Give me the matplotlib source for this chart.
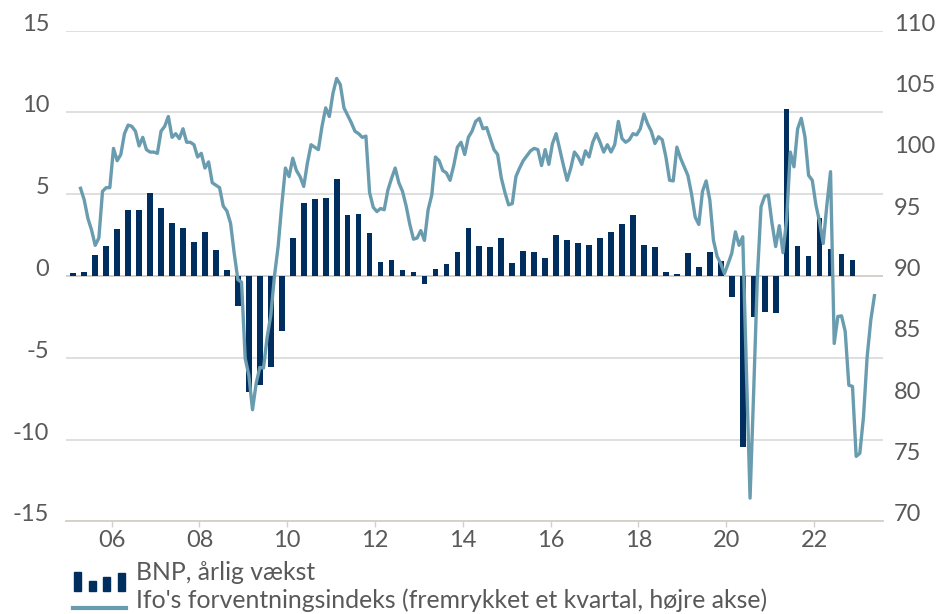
import matplotlib
matplotlib.use("Agg")
import matplotlib.pyplot as plt
from matplotlib.patches import Rectangle
from matplotlib.lines import Line2D
import numpy as np

# ---------------- data ----------------
# BNP, årlig vækst (quarterly, 2005Q1 - 2022Q4), left axis (%)
gdp_start_year = 2005
gdp_growth = [
    0.2, 0.25, 1.3, 1.85,      # 2005
    2.87, 4.03, 4.03, 5.07,    # 2006
    4.16, 3.24, 2.95, 2.08,    # 2007
    2.69, 1.59, 0.37, -1.81,   # 2008
    -7.08, -6.65, -5.54, -3.34,  # 2009
    2.32, 4.46, 4.70, 4.77,    # 2010
    5.93, 3.73, 3.79, 2.63,    # 2011
    0.86, 0.98, 0.37, 0.24,    # 2012
    -0.49, 0.43, 0.73, 1.47,   # 2013
    2.93, 1.83, 1.77, 2.32,    # 2014
    0.80, 1.53, 1.47, 1.10,    # 2015
    2.50, 2.20, 2.02, 1.90,    # 2016
    2.32, 2.69, 3.18, 3.73,    # 2017
    1.90, 1.77, 0.24, 0.12,    # 2018
    1.41, 0.55, 1.47, 0.92,    # 2019
    -1.26, -10.43, -2.49, -2.18,  # 2020
    -2.24, 10.2, 1.85, 1.24,   # 2021
    3.57, 1.65, 1.34, 0.98,    # 2022
]

# Ifo's forventningsindeks, shifted one quarter (monthly, Apr 2005 - May 2023), right axis
ifo_start = (2005, 4)
ifo_expect = [
    97.15, 96.2, 94.7, 93.75, 92.5, 93.1, 96.9, 97.2, 97.2,                      # 2005 Apr-Dec
    100.4, 99.4, 99.9, 101.6, 102.3, 102.2, 101.8, 100.6, 101.3, 100.3, 100.1, 100.1,  # 2006
    100.0, 101.8, 102.2, 103.0, 101.3, 101.6, 101.2, 102.0, 100.9, 100.9, 100.7, 99.7,  # 2007
    100.0, 98.8, 99.3, 97.6, 97.4, 97.2, 95.7, 95.3, 94.3, 91.85, 89.7, 89.5,     # 2008
    83.3, 81.9, 79.1, 81.25, 82.55, 82.5, 85.0, 86.8, 90.0, 92.4, 95.8, 98.8,     # 2009
    98.1, 99.6, 98.6, 98.1, 97.3, 99.2, 100.7, 100.5, 100.3, 102.2, 103.7, 103.0,  # 2010
    104.9, 106.1, 105.6, 103.7, 103.1, 102.5, 101.8, 101.6, 101.3, 101.4, 96.8, 95.6,  # 2011
    95.25, 95.5, 95.4, 97.0, 97.95, 98.8, 97.6, 96.9, 95.7, 94.2, 93.0, 93.1,     # 2012
    93.7, 92.9, 95.4, 96.6, 99.7, 99.4, 98.6, 98.4, 97.8, 99.0, 100.5, 100.9,     # 2013
    99.9, 101.3, 101.8, 102.6, 102.85, 102.0, 102.1, 101.2, 100.3, 99.9, 98.0, 96.8,  # 2014
    95.8, 95.9, 98.1, 98.8, 99.4, 99.8, 100.2, 100.4, 100.3, 99.0, 100.3, 99.1,   # 2015
    100.8, 101.6, 100.3, 99.0, 97.8, 98.8, 100.1, 99.7, 99.1, 100.2, 99.7, 100.9,  # 2016
    101.6, 100.9, 100.1, 100.7, 100.1, 100.7, 102.6, 101.2, 100.9, 101.1, 101.6, 101.5,  # 2017
    102.0, 103.2, 102.4, 101.8, 100.8, 101.35, 101.1, 99.7, 97.8, 97.75, 100.5, 99.6,  # 2018
    98.9, 98.2, 96.7, 94.8, 94.2, 96.9, 97.75, 96.2, 92.9, 91.6, 91.0, 90.2,      # 2019
    91.0, 91.85, 93.6, 92.5, 93.2, 82.3, 71.9, 80.7, 89.95, 95.65, 96.5, 96.6,    # 2020
    94.3, 92.4, 94.1, 91.9, 94.6, 100.1, 98.9, 102.0, 102.85, 101.35, 98.2, 97.8,  # 2021
    95.8, 94.4, 92.65, 95.8, 98.5, 84.5, 86.7, 86.75, 85.5, 81.1, 81.0, 75.3,     # 2022
    75.55, 78.5, 83.4, 86.4, 88.4,                                               # 2023 Jan-May
]

year_ticks = [2006, 2008, 2010, 2012, 2014, 2016, 2018, 2020, 2022]
year_labels = ["06", "08", "10", "12", "14", "16", "18", "20", "22"]
left_ticks = [-15, -10, -5, 0, 5, 10, 15]
right_ticks = [70, 75, 80, 85, 90, 95, 100, 105, 110]

legend_labels = ["BNP, årlig vækst",
                 "Ifo's forventningsindeks (fremrykket et kvartal, højre akse)"]

# ---------------- style ----------------
BAR_COLOR = "#002e5e"
LINE_COLOR = "#6a9caf"
TEXT_COLOR = "#595959"
GRID_COLOR = "#d9d9d9"
AXIS_COLOR = "#d6cfc8"
FONT = "Lato"
TICK_FS = 17

plt.rcParams["font.family"] = [FONT, "DejaVu Sans"]

W, H = 941, 614
fig = plt.figure(figsize=(W / 100, H / 100), dpi=100)
x0, x1, ytop, ybot = 66, 882.7, 30.6, 521.4
ax = fig.add_axes([x0 / W, 1 - ybot / H, (x1 - x0) / W, (ybot - ytop) / H])
ax2 = ax.twinx()

# x positions
gdp_x = [gdp_start_year + i * 0.25 + 0.125 for i in range(len(gdp_growth))]
ifo_x = [ifo_start[0] + (ifo_start[1] - 1 + i + 0.5) / 12 for i in range(len(ifo_expect))]

ax.bar(gdp_x, gdp_growth, width=0.13, color=BAR_COLOR, zorder=3)
ax2.plot(ifo_x, ifo_expect, color=LINE_COLOR, lw=2.4, solid_joinstyle="round", zorder=4)

ax.set_xlim(2004.96, 2023.563)
ax.set_ylim(-15, 15)
ax2.set_ylim(70, 110)

ax.set_yticks(left_ticks)
ax.set_yticklabels([str(t) for t in left_ticks])
ax2.set_yticks(right_ticks)
ax2.set_yticklabels([str(t) for t in right_ticks])
ax.set_xticks(year_ticks)
ax.set_xticklabels(year_labels)

ax.grid(axis="y", color=GRID_COLOR, lw=1.2, zorder=0)
ax.set_axisbelow(True)
ax.axhline(0, color=AXIS_COLOR, lw=1.3, zorder=2)

for a in (ax, ax2):
    for s in ("top", "left", "right"):
        a.spines[s].set_visible(False)
ax2.spines["bottom"].set_visible(False)
ax.spines["bottom"].set_color(AXIS_COLOR)
ax.spines["bottom"].set_linewidth(1.3)

ax.tick_params(axis="y", length=0, pad=12, labelsize=TICK_FS, labelcolor=TEXT_COLOR)
ax2.tick_params(axis="y", length=0, pad=8, labelsize=TICK_FS, labelcolor=TEXT_COLOR)
ax.tick_params(axis="x", length=4, width=1, color=AXIS_COLOR, pad=2,
               labelsize=TICK_FS, labelcolor=TEXT_COLOR)
for lab in ax.get_yticklabels() + ax2.get_yticklabels():
    lab.set_verticalalignment("baseline")

# ---------------- legend (manual, figure pixel coords) ----------------
def fx(px):
    return px / W

def fy(py):
    return 1 - py / H

# bar icon: four small bars
icon_heights = [1.0, 0.55, 0.75, 0.95]
bw = 7
for i, hfrac in enumerate(icon_heights):
    left = 74 + i * 14.5
    bottom = 591
    h = 19 * hfrac
    fig.add_artist(Rectangle((fx(left), fy(bottom)), bw / W, h / H,
                             transform=fig.transFigure, color=BAR_COLOR))
fig.add_artist(Line2D([fx(73), fx(126)], [fy(608), fy(608)], transform=fig.transFigure,
                      color=LINE_COLOR, lw=3))
fig.text(fx(136), fy(573), legend_labels[0], fontsize=17.8,
         color=TEXT_COLOR, va="center", ha="left")
fig.text(fx(136), fy(600), legend_labels[1], fontsize=17.8,
         color=TEXT_COLOR, va="center", ha="left")

fig.savefig("out.png", dpi=100)
